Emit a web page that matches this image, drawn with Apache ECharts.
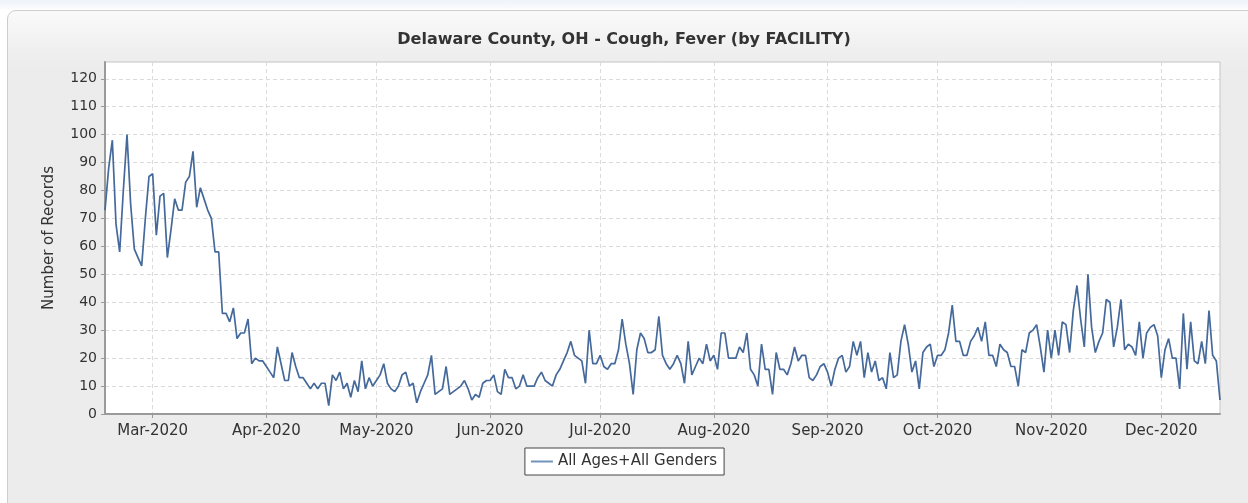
<!DOCTYPE html>
<html>
<head>
<meta charset="utf-8">
<script src="https://cdn.jsdelivr.net/npm/echarts@6/dist/echarts.min.js"></script>
<style>
  html, body { margin: 0; padding: 0; background: #ffffff; }
  #wrap { position: relative; width: 1248px; height: 503px; overflow: hidden;
          background: linear-gradient(#eef3fa 0px, #f8fafd 8px, #ffffff 10px); }
  #panel { position: absolute; left: 7px; top: 10px; width: 1250px; height: 510px;
           box-sizing: border-box; border: 1px solid #cdcdcd; border-radius: 9px;
           background: linear-gradient(#fafafa 0px, #efefef 40px, #ececec 60px, #ececec 100%); }
  #chart { position: absolute; left: 0; top: 0; width: 1248px; height: 503px; }
</style>
</head>
<body>
<div id="wrap">
  <div id="panel"></div>
  <div id="chart"></div>
</div>
<script>
// ---- data ----
const chartTitle = 'Delaware County, OH - Cough, Fever (by FACILITY)';
const yAxisName = 'Number of Records';
const seriesName = 'All Ages+All Genders';
const startDate = '2020-02-17';
const monthNames = ['Jan','Feb','Mar','Apr','May','Jun','Jul','Aug','Sep','Oct','Nov','Dec'];
const yTicks = [0,10,20,30,40,50,60,70,80,90,100,110,120];
const records = [
  73, 88, 98, 68, 58, 80,100, 75, 59, 56, 53, 70, 85, 86, 64, 78, 79, 56, 66, 77,
  73, 73, 83, 85, 94, 74, 81, 77, 73, 70, 58, 58, 36, 36, 33, 38, 27, 29, 29, 34,
  18, 20, 19, 19, 17, 15, 13, 24, 18, 12, 12, 22, 17, 13, 13, 11,  9, 11,  9, 11,
  11,  3, 14, 12, 15,  9, 11,  6, 12,  8, 19,  9, 13, 10, 12, 14, 18, 11,  9,  8,
  10, 14, 15, 10, 11,  4,  8, 11, 14, 21,  7,  8,  9, 17,  7,  8,  9, 10, 12,  9,
   5,  7,  6, 11, 12, 12, 14,  8,  7, 16, 13, 13,  9, 10, 14, 10, 10, 10, 13, 15,
  12, 11, 10, 14, 16, 19, 22, 26, 21, 20, 19, 11, 30, 18, 18, 21, 17, 16, 18, 18,
  23, 34, 25, 18,  7, 23, 29, 27, 22, 22, 23, 35, 21, 18, 16, 18, 21, 18, 11, 26,
  14, 17, 20, 18, 25, 19, 21, 16, 29, 29, 20, 20, 20, 24, 22, 29, 16, 14, 10, 25,
  16, 16,  7, 22, 16, 16, 14, 18, 24, 19, 21, 21, 13, 12, 14, 17, 18, 15, 10, 16,
  20, 21, 15, 17, 26, 21, 26, 13, 22, 15, 19, 12, 13,  9, 22, 13, 14, 26, 32, 25,
  15, 19,  9, 22, 24, 25, 17, 21, 21, 23, 29, 39, 26, 26, 21, 21, 26, 28, 31, 26,
  33, 21, 21, 17, 25, 23, 22, 17, 17, 10, 23, 22, 29, 30, 32, 24, 15, 30, 20, 30,
  21, 33, 32, 22, 37, 46, 34, 24, 50, 31, 22, 26, 29, 41, 40, 24, 31, 41, 23, 25,
  24, 21, 33, 20, 29, 31, 32, 28, 13, 23, 27, 20, 20,  9, 36, 16, 33, 19, 18, 26,
  18, 37, 21, 19,  5
];

// ---- build category dates ----
function buildDates(start, n) {
  const p = start.split('-').map(Number);
  const t0 = Date.UTC(p[0], p[1] - 1, p[2]);
  const out = [];
  for (let i = 0; i < n; i++) {
    const d = new Date(t0 + i * 86400000);
    const mm = String(d.getUTCMonth() + 1).padStart(2, '0');
    const dd = String(d.getUTCDate()).padStart(2, '0');
    out.push(d.getUTCFullYear() + '-' + mm + '-' + dd);
  }
  return out;
}
const dates = buildDates(startDate, records.length);
const isMonthStart = (idx, val) => val.slice(8) === '01';

const FONT = 'DejaVu Sans';
const chart = echarts.init(document.getElementById('chart'), null, { renderer: 'canvas' });
chart.setOption({
  backgroundColor: 'transparent',
  animation: false,
  title: {
    text: chartTitle,
    left: 'center',
    top: 27,
    textStyle: { fontFamily: FONT, fontSize: 16, fontWeight: 'bold', color: '#333333' }
  },
  legend: {
    data: [{ name: seriesName, icon: 'rect' }],
    left: 'center',
    top: 448,
    backgroundColor: '#ffffff',
    borderColor: '#444444',
    borderWidth: 1,
    borderRadius: 0,
    padding: [6, 7, 6, 6],
    itemWidth: 22,
    itemHeight: 2,
    itemGap: 6,
    itemStyle: { color: '#7393bb' },
    textStyle: { fontFamily: FONT, fontSize: 15, color: '#333333' }
  },
  grid: {
    left: 105, top: 62, right: 28, bottom: 89,
    show: true, backgroundColor: '#ffffff', borderColor: '#c4c4c4', borderWidth: 1,
    containLabel: false
  },
  xAxis: {
    type: 'category',
    data: dates,
    boundaryGap: false,
    axisLine: { show: true, lineStyle: { color: '#9a9a9a', width: 2 } },
    axisTick: { show: true, interval: isMonthStart, length: 4, lineStyle: { color: '#9a9a9a' } },
    axisLabel: {
      interval: isMonthStart,
      margin: 10,
      fontFamily: FONT, fontSize: 15, color: '#333333',
      formatter: function (v) {
        const p = v.split('-');
        return monthNames[Number(p[1]) - 1] + '-' + p[0];
      }
    },
    splitLine: { show: true, interval: isMonthStart, lineStyle: { color: '#dadada', type: [4, 3], width: 1 } }
  },
  yAxis: {
    type: 'value',
    min: 0,
    max: 126,
    interval: 10,
    name: yAxisName,
    nameLocation: 'middle',
    nameGap: 48,
    nameTextStyle: { fontFamily: FONT, fontSize: 15, color: '#333333' },
    axisLine: { show: true, lineStyle: { color: '#9a9a9a', width: 2 } },
    axisTick: { show: true, length: 4, customValues: yTicks, lineStyle: { color: '#9a9a9a' } },
    axisLabel: {
      margin: 8,
      customValues: yTicks,
      fontFamily: FONT, fontSize: 14, color: '#333333',
      formatter: function (v) { return yTicks.indexOf(v) >= 0 ? String(v) : ''; }
    },
    splitLine: { show: true, lineStyle: { color: '#dadada', type: [4, 3], width: 1 } }
  },
  series: [{
    name: seriesName,
    type: 'line',
    data: records,
    symbol: 'none',
    showSymbol: false,
    lineStyle: { color: '#44699a', width: 1.7 },
    itemStyle: { color: '#44699a' }
  }]
});
</script>
</body>
</html>
